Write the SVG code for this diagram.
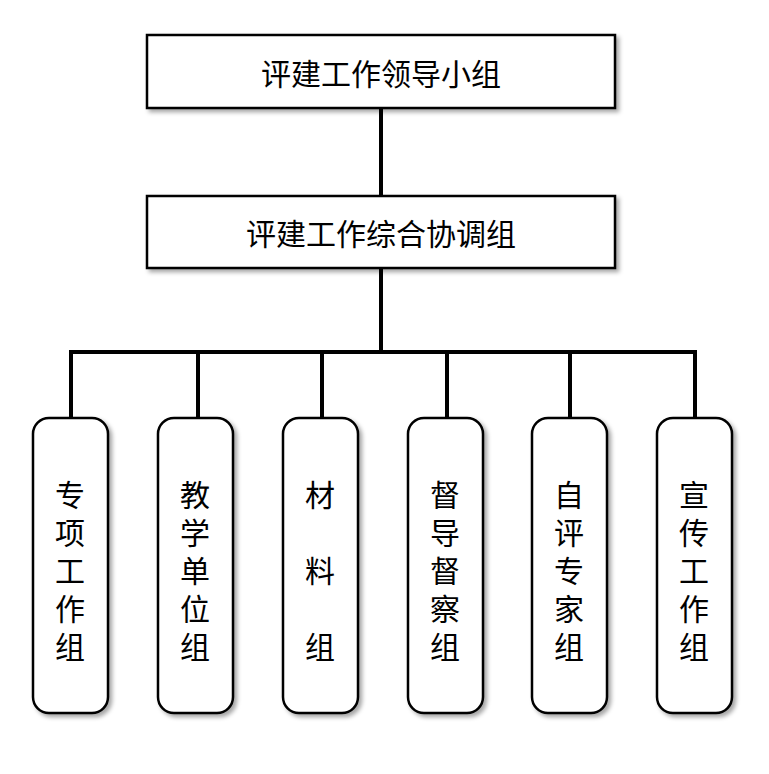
<svg xmlns="http://www.w3.org/2000/svg" width="769" height="774" viewBox="0 0 769 774">
<defs>
<filter id="sh" x="-20%" y="-20%" width="150%" height="150%"><feDropShadow dx="3" dy="3" stdDeviation="2" flood-color="#000" flood-opacity="0.35"/></filter>
<style>
.b{fill:#fff;stroke:#000;stroke-width:2.5;filter:url(#sh)}
.t{font-family:"Noto Sans CJK SC",sans-serif;font-size:30px;fill:#000;text-anchor:middle;dominant-baseline:central}
.c{stroke:#000;stroke-width:4;fill:none}
</style>
</defs>
<rect width="769" height="774" fill="#fff"/>
<g id="connectors">
<path class="c" d="M381 108V196M381 268V352M69 352H697M71 352V418M198 352V418M322 352V418M447 352V418M570 352V418M695 352V418"/>
</g>
<g id="n1"><rect class="b" x="147" y="35" width="468" height="73"/><text class="t" x="381" y="72">评建工作领导小组</text></g>
<g id="n2"><rect class="b" x="147" y="196" width="468" height="72"/><text class="t" x="381" y="232">评建工作综合协调组</text></g>
<g id="g1"><rect class="b" x="33" y="418" width="75" height="295" rx="16"/><text class="t" x="70"><tspan x="70" y="493">专</tspan><tspan x="70" y="531">项</tspan><tspan x="70" y="569">工</tspan><tspan x="70" y="607">作</tspan><tspan x="70" y="645">组</tspan></text></g>
<g id="g2"><rect class="b" x="158" y="418" width="75" height="295" rx="16"/><text class="t"><tspan x="195" y="493">教</tspan><tspan x="195" y="531">学</tspan><tspan x="195" y="569">单</tspan><tspan x="195" y="607">位</tspan><tspan x="195" y="645">组</tspan></text></g>
<g id="g3"><rect class="b" x="283" y="418" width="75" height="295" rx="16"/><text class="t"><tspan x="320" y="493">材</tspan><tspan x="320" y="569">料</tspan><tspan x="320" y="645">组</tspan></text></g>
<g id="g4"><rect class="b" x="408" y="418" width="75" height="295" rx="16"/><text class="t"><tspan x="445" y="493">督</tspan><tspan x="445" y="531">导</tspan><tspan x="445" y="569">督</tspan><tspan x="445" y="607">察</tspan><tspan x="445" y="645">组</tspan></text></g>
<g id="g5"><rect class="b" x="532" y="418" width="75" height="295" rx="16"/><text class="t"><tspan x="569" y="493">自</tspan><tspan x="569" y="531">评</tspan><tspan x="569" y="569">专</tspan><tspan x="569" y="607">家</tspan><tspan x="569" y="645">组</tspan></text></g>
<g id="g6"><rect class="b" x="657" y="418" width="75" height="295" rx="16"/><text class="t"><tspan x="694" y="493">宣</tspan><tspan x="694" y="531">传</tspan><tspan x="694" y="569">工</tspan><tspan x="694" y="607">作</tspan><tspan x="694" y="645">组</tspan></text></g>
</svg>
